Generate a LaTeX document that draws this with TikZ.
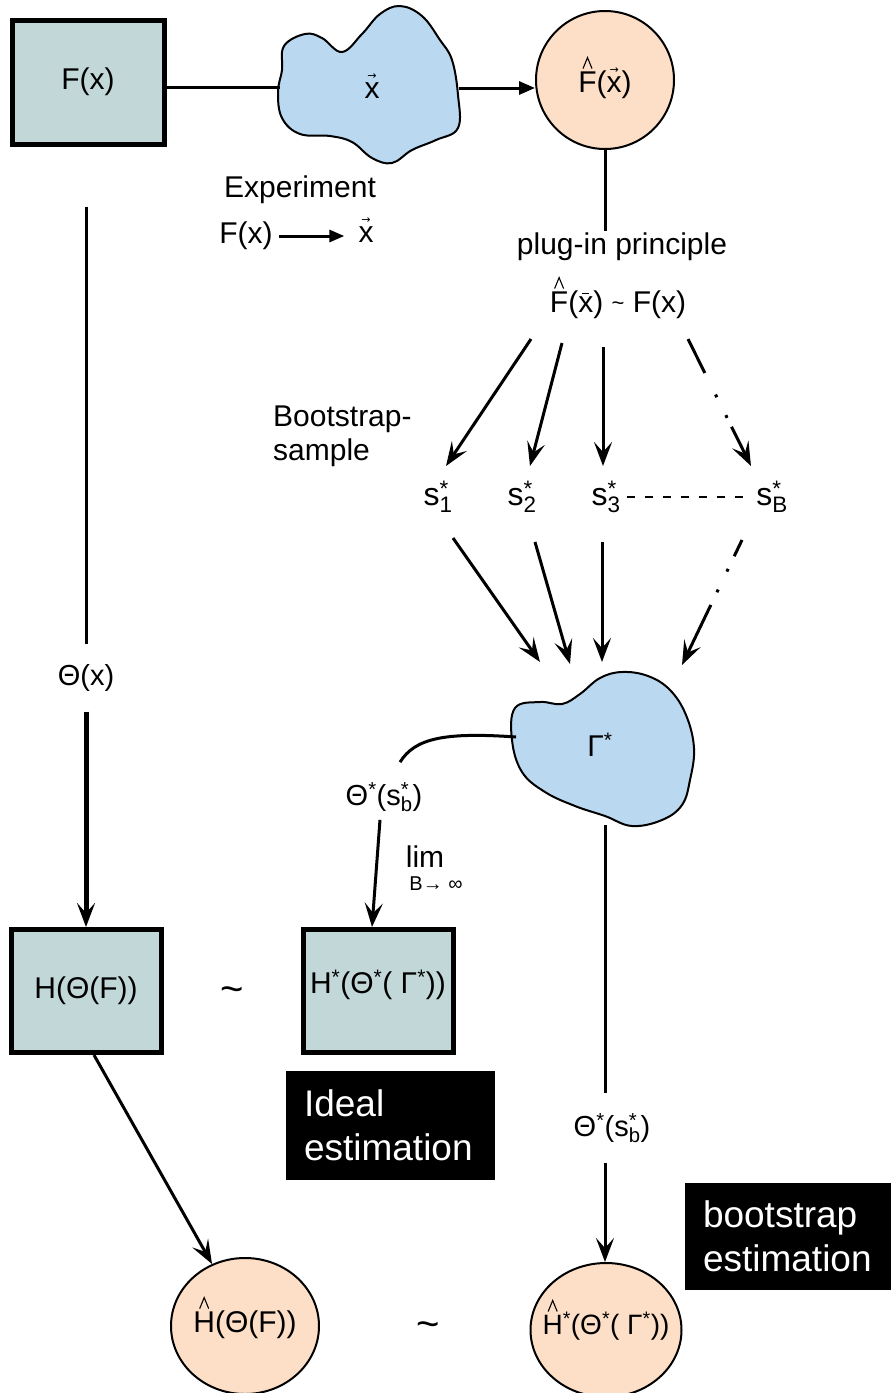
\documentclass[tikz,border=0pt]{standalone}
\usepackage{fontspec}
\setmainfont{Liberation Sans}
\newfontfamily\symfont{DejaVu Sans}
\usetikzlibrary{shapes.geometric,arrows.meta}
\definecolor{boxfill}{RGB}{194,216,216}
\definecolor{bloblue}{RGB}{186,216,240}
\definecolor{peach}{RGB}{253,222,199}
\newcommand{\accover}[2]{\vbox{\offinterlineskip\halign{\hfil##\hfil\cr #1\cr\noalign{\kern3pt}#2\cr}}}
\newcommand{\hatmark}{\tikz[baseline=0pt]\draw[line width=1.1pt] (0pt,0pt) -- (4.5pt,11pt) -- (9pt,0pt);}
\newcommand{\vecmark}{{\symfont\fontsize{11}{11}\selectfont →}}
\newcommand{\barmark}{\rule{7pt}{1.2pt}}
\newcommand{\supsub}[2]{\rlap{\textsuperscript{#1}}\textsubscript{#2}}
\tikzset{
  every node/.style={font=\fontsize{30}{34}\selectfont, inner sep=2pt},
  sqbox/.style={draw=black, line width=5pt, fill=boxfill, minimum width=150pt, minimum height=123pt},
  oval/.style={ellipse, draw, line width=2pt, fill=peach, inner sep=0pt},
  blob/.style={draw, line width=2pt, fill=bloblue},
  conn/.style={line width=3pt},
  arr/.style={conn, -{Stealth[length=24pt,width=18pt,inset=10pt]}},
  tri/.style={conn, -{Triangle[length=16pt,width=13pt]}},
  dashdot/.style={dash pattern=on 38pt off 24pt on 3pt off 20pt on 3pt off 10pt on 80pt},
  blackbox/.style={fill=black, text=white, align=left, font=\fontsize{37}{44}\selectfont, inner xsep=18pt, anchor=center},
  small/.style={font=\fontsize{29}{32}\selectfont},
  tilde/.style={font=\fontsize{40}{40}\selectfont},
}
\begin{document}
\begin{tikzpicture}[x=1pt,y=-1pt]
\useasboundingbox (0,0) rectangle (891,1393);
% top row
\node[sqbox, minimum width=152pt, minimum height=124pt] (Fbox) at (88,82) {F(x)};
\draw[blob] plot[smooth cycle, tension=0.65] coordinates {(284,46) (305,34) (322,38) (342,52) (362,34) (380,14) (400,6) (422,16) (440,40) (452,60) (458,95) (458,128) (436,140) (412,150) (392,163) (372,158) (352,142) (330,136) (300,134) (282,118) (278,92) (282,70)};
\node (xv) at (372,86) {\accover{\vecmark}{x}};
\coordinate (xW) at (280,87);
\coordinate (xE) at (459,88);
\node[oval, minimum width=138pt, minimum height=138pt] (Fhat) at (605,80) {};
\node (Fhatt) at (605,78) {\accover{\hatmark}{F}(\accover{\vecmark}{x})};
\draw[conn] (xW -| Fbox.east) -- (xW);
\draw[tri] (xE) -- (xE -| Fhat.west);
% experiment
\node (exp) at (300,190) {Experiment};
\node (expF) at (246,236) {F(x)};
\node (expx) at (366,230) {\accover{\vecmark}{x}};
\draw[line width=3pt, -{Triangle[length=15pt,width=12pt]}, shorten <=4pt, shorten >=12pt] (expF.east) -- (expF.east -| expx.west);
% plug-in
\node (plug) at (622,247) {plug-in principle};
\node (plugf) at (618,298) {\accover{\hatmark}{F}(\accover{\barmark}{x}) \raisebox{2pt}{\fontsize{22}{22}\selectfont\char`~} F(x)};
\draw[conn] (Fhat.south) -- (Fhat.south |- plug.north);
% bootstrap samples
\node[align=left, anchor=north west, font=\fontsize{30}{34}\selectfont] (bs) at (271,404) {Bootstrap-\\sample};
\node[font=\fontsize{32}{34}\selectfont] (s1) at (438,497) {s\supsub{*}{1}};
\node[font=\fontsize{32}{34}\selectfont] (s2) at (522,497) {s\supsub{*}{2}};
\node[font=\fontsize{32}{34}\selectfont] (s3) at (606,497) {s\supsub{*}{3}};
\node[font=\fontsize{32}{34}\selectfont] (sB) at (772,497) {s\supsub{*}{B}};
\draw[line width=1.3pt, dash pattern=on 8pt off 10pt] ([xshift=4pt]s3.east) -- ([xshift=-4pt]sB.west);
\coordinate (t1) at (531,339);
\coordinate (t2) at (562,343);
\coordinate (t3) at (603,347);
\coordinate (tB) at (688,339);
\coordinate (e1) at (446,466);
\coordinate (e2) at (530,466);
\coordinate (e3) at (603,466);
\coordinate (eB) at (751,466);
\draw[arr] (t1) -- (e1);
\draw[arr] (t2) -- (e2);
\draw[arr] (t3) -- (e3);
\draw[arr, dashdot] (tB) -- (eB);
% gamma blob
\draw[blob] plot[smooth cycle, tension=0.65] coordinates {(515,708) (540,702) (562,704) (580,694) (600,678) (622,672) (648,676) (670,690) (686,715) (694,748) (690,780) (682,805) (662,820) (632,826) (605,816) (575,806) (545,792) (522,772) (512,740)};
\node (gam) at (600,745) {Γ\textsuperscript{*}};
\coordinate (u1) at (453,538);
\coordinate (u2) at (535,542);
\coordinate (u3) at (602,542);
\coordinate (uB) at (742,540);
\coordinate (g1) at (540,662);
\coordinate (g2) at (570,664);
\coordinate (g3) at (602,662);
\coordinate (gB) at (682,665);
\draw[arr] (u1) -- (g1);
\draw[arr] (u2) -- (g2);
\draw[arr] (u3) -- (g3);
\draw[arr, dash pattern=on 18pt off 14pt on 3pt off 20pt on 3pt off 14pt on 80pt] (uB) -- (gB);
% left column
\node[small, inner ysep=20pt] (thx) at (86,678) {Θ(x)};
\node[sqbox] (Hbox) at (86,991) {H(Θ(F))};
\draw[conn, shorten <=60pt] (Fbox.south -| thx.north) -- (thx.north);
\draw[arr, line width=5pt] (thx.south) -- (Hbox.north);
\node[tilde] (til1) at (232,995) {\char`~};
% middle
\node[sqbox] (Hst) at (378,991) {};
\node (Hstt) at (378,985) {H\textsuperscript{*}(Θ\textsuperscript{*}( Γ\textsuperscript{*}))};
\node[small, inner ysep=8pt] (thsb) at (384,797) {Θ\textsuperscript{*}(s\supsub{*}{b})};
\coordinate (gamL) at (516,737);
\draw[conn] (gamL) .. controls (445,732) and (415,738) .. ([xshift=16pt,yshift=12pt]thsb.north);
\draw[arr] ([xshift=-4pt]thsb.south) -- ([xshift=-6pt]Hst.north);
\node (lim) at (425,857) {lim};
\node[font=\fontsize{20}{22}\selectfont] (blim) at (436,884) {B→ ∞};
% right long line
\coordinate (gamB) at (605,825);
\node[small, inner ysep=20pt] (thsb2) at (612,1128) {Θ\textsuperscript{*}(s\supsub{*}{b})};
\draw[conn] (gamB) -- (gamB |- thsb2.north);
% bottom circles
\node[oval, minimum width=148pt, minimum height=136pt] (Hhat) at (245,1326) {};
\node (Hhatt) at (245,1318) {\accover{\hatmark}{H}(Θ(F))};
\node[oval, minimum width=151pt, minimum height=134pt] (Hsc) at (606,1330) {};
\node[font=\fontsize{28}{30}\selectfont] (Hsct) at (606,1320) {\accover{\hatmark}{H}\textsuperscript{*}(Θ\textsuperscript{*}( Γ\textsuperscript{*}))};
\node[tilde] (til2) at (428,1330) {\char`~};
\draw[arr] (gamB |- thsb2.south) -- (gamB |- Hsc.north);
\draw[arr] ([xshift=8pt]Hbox.south) -- (Hhat.118);
% black labels
\node[blackbox, text width=173pt, minimum height=109pt] (ideal) at (390.5,1125.5) {Ideal\\estimation};
\node[blackbox, text width=170pt, minimum height=107pt] (boot) at (788,1236.5) {bootstrap\\estimation};
\end{tikzpicture}
\end{document}
